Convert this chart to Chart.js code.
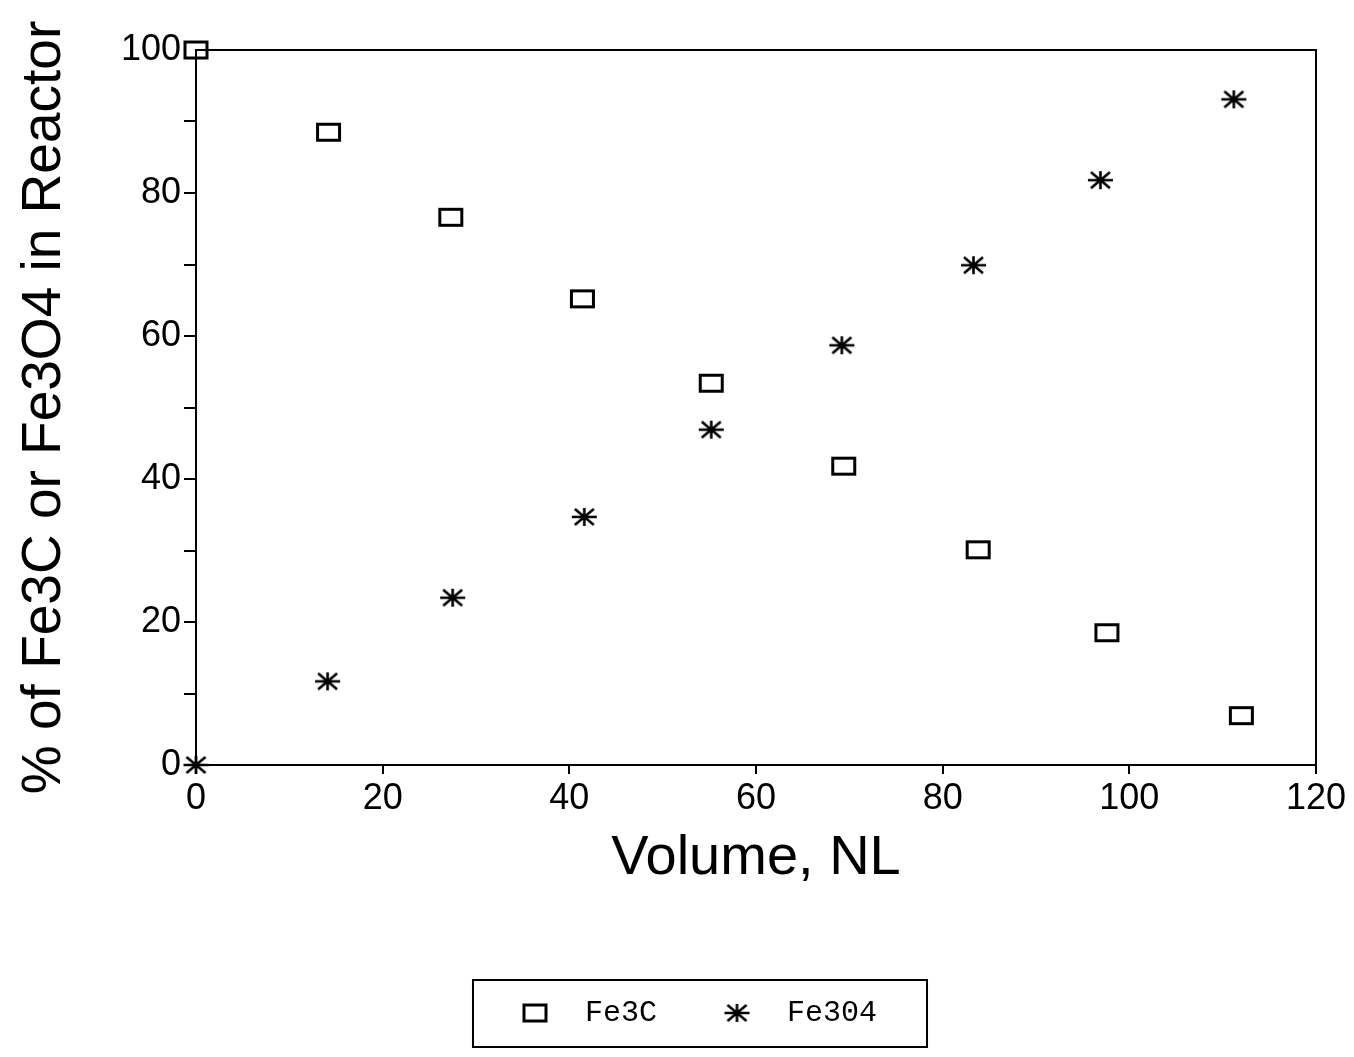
<!DOCTYPE html>
<html>
<head>
<meta charset="utf-8">
<script src="https://cdn.jsdelivr.net/npm/chart.js@4"></script>
<style>
  body { margin: 0; background: #fff; }
  #wrap { width: 1354px; height: 1057px; }
</style>
</head>
<body>
<div id="wrap"><canvas id="reactorChart"></canvas></div>
<script>
var fe3cVolume = [0, 14.2, 27.3, 41.4, 55.2, 69.4, 83.8, 97.6, 112.0];
var fe3cPercent = [100, 88.5, 76.6, 65.2, 53.4, 41.8, 30.1, 18.5, 6.9];
var fe3o4Volume = [0, 14.1, 27.5, 41.6, 55.2, 69.2, 83.3, 96.9, 111.2];
var fe3o4Percent = [0, 11.7, 23.4, 34.7, 46.9, 58.7, 69.9, 81.8, 93.1];
var seriesNames = ['Fe3C', 'Fe304'];

function toPoints(xs, ys) {
    return xs.map(function (x, i) { return { x: x, y: ys[i] }; });
}

// open box marker, a bit wider than tall like the plotter's
var boxMark = document.createElement('canvas');
boxMark.width = 27;
boxMark.height = 21;
var bctx = boxMark.getContext('2d');
bctx.fillStyle = '#fff';
bctx.fillRect(2, 2, 23, 17);
bctx.strokeStyle = '#000';
bctx.lineWidth = 3;
bctx.strokeRect(2.5, 2.5, 22, 16);

// asterisk marker, flattened
var starMark = document.createElement('canvas');
starMark.width = 29;
starMark.height = 22;
var sctx = starMark.getContext('2d');
sctx.strokeStyle = '#000';
sctx.lineWidth = 2.6;
sctx.beginPath();
sctx.moveTo(2, 11); sctx.lineTo(27, 11);
sctx.moveTo(14.5, 2); sctx.lineTo(14.5, 20);
sctx.moveTo(5, 3); sctx.lineTo(24, 19);
sctx.moveTo(5, 19); sctx.lineTo(24, 3);
sctx.stroke();

var framePlugin = {
    id: 'frame',
    afterDraw: function (chart) {
        var c = chart.ctx, a = chart.chartArea;
        c.save();
        c.strokeStyle = '#000';
        c.lineWidth = 2;
        c.strokeRect(a.left, a.top, a.right - a.left, a.bottom - a.top);
        // box round the legend
        var boxes = chart.legend.legendHitBoxes;
        if (boxes && boxes.length) {
            var last = boxes[boxes.length - 1];
            var l = boxes[0].left, r = last.left + last.width;
            var cy = boxes[0].top + boxes[0].height / 2;
            c.strokeRect(l - 27, cy - 33, (r - l) + 77, 67);
        }
        c.restore();
    }
};

var ctx = document.getElementById('reactorChart').getContext('2d');
var myChart = new Chart(ctx, {
    type: 'scatter',
    data: {
        datasets: [{
            label: seriesNames[0],
            data: toPoints(fe3cVolume, fe3cPercent),
            pointStyle: boxMark,
            pointRadius: 11,
            borderColor: '#000',
            backgroundColor: '#fff',
            clip: false
        }, {
            label: seriesNames[1],
            data: toPoints(fe3o4Volume, fe3o4Percent),
            pointStyle: starMark,
            pointRadius: 12,
            borderColor: '#000',
            backgroundColor: '#000',
            clip: false
        }]
    },
    options: {
        responsive: true,
        maintainAspectRatio: false,
        animation: false,
        layout: { padding: { top: 50, left: 23, right: 0, bottom: 19 } },
        plugins: {
            tooltip: { enabled: false },
            legend: {
                position: 'bottom',
                labels: {
                    usePointStyle: true,
                    pointStyleWidth: 70,
                    boxHeight: 18,
                    padding: 45,
                    color: '#000',
                    font: { family: 'Liberation Mono', size: 30 }
                }
            }
        },
        scales: {
            x: {
                type: 'linear',
                min: 0,
                max: 120,
                afterFit: function (s) { s.height = 188; },
                ticks: {
                    stepSize: 20,
                    padding: 3,
                    color: '#000',
                    maxRotation: 0,
                    font: { family: 'Liberation Sans', size: 36 }
                },
                grid: { drawOnChartArea: false, drawTicks: true, tickLength: 9, color: '#000', lineWidth: 2 },
                border: { display: true, color: '#000', width: 2 },
                title: {
                    display: true,
                    text: 'Volume, NL',
                    color: '#000',
                    font: { family: 'Liberation Sans', size: 56 },
                    padding: { top: 0, bottom: 61 }
                }
            },
            y: {
                type: 'linear',
                min: 0,
                max: 100,
                afterFit: function (s) { s.width = 173; },
                ticks: {
                    stepSize: 10,
                    padding: 3,
                    color: '#000',
                    font: { family: 'Liberation Sans', size: 36 },
                    callback: function (v) { return v % 20 === 0 ? v : ''; }
                },
                grid: { drawOnChartArea: false, drawTicks: true, tickLength: 12, color: '#000', lineWidth: 2 },
                border: { display: true, color: '#000', width: 2 },
                title: {
                    display: true,
                    text: '% of Fe3C or Fe3O4 in Reactor',
                    color: '#000',
                    font: { family: 'Liberation Sans', size: 55, lineHeight: 0.8 },
                    padding: { top: 0, bottom: 0 }
                }
            },
            yRight: {
                position: 'right',
                display: true,
                afterFit: function (s) { s.width = 38; },
                ticks: { display: false },
                grid: { display: false, drawTicks: false },
                border: { display: false }
            }
        }
    },
    plugins: [framePlugin]
});
</script>
</body>
</html>
